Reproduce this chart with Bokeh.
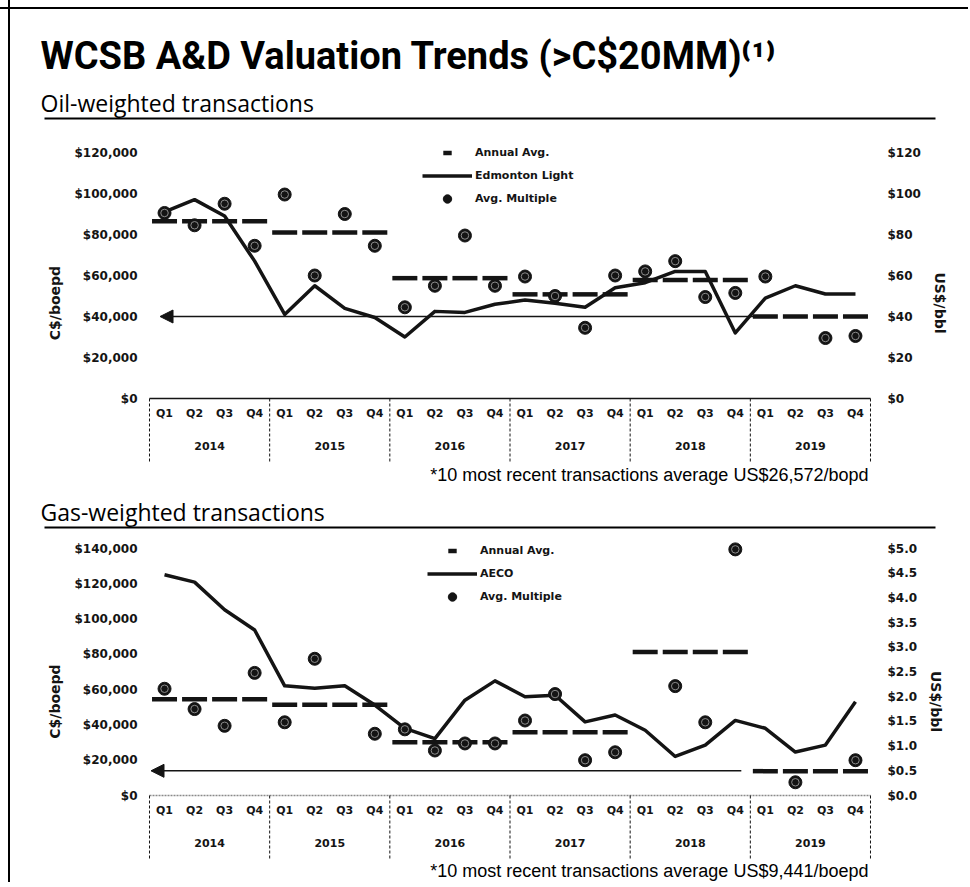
from bokeh.plotting import figure
from bokeh.models import (FactorRange, Range1d, LinearAxis, FixedTicker, NumeralTickFormatter,
                          Legend, LegendItem, Arrow, NormalHead)
from bokeh.layouts import column, row
from bokeh.core.properties import value
from bokeh.embed import file_html
from bokeh.resources import INLINE

# ---------------- data ----------------
years = ["2014", "2015", "2016", "2017", "2018", "2019"]
quarters = ["Q1", "Q2", "Q3", "Q4"]

oil_avg_multiple = [90500, 84500, 95000, 74500, 99500, 60000, 90000, 74500,
                    44500, 55000, 79500, 55000, 59500, 50000, 34500, 60000,
                    62000, 67000, 49500, 51500, 59500, None, 29500, 30500]
oil_edmonton_light = [91, 97, 89, 67, 41, 55, 44, 39.5,
                      30, 42.5, 42, 46, 48, 46.5, 44.5, 54,
                      56.5, 62, 62, 32, 49, 55, 51, 51]
oil_annual_avg = [86500, 81000, 58700, 50800, 57800, 40000]
oil_left_ticks = [0, 20000, 40000, 60000, 80000, 100000, 120000]
oil_right_ticks = [0, 20, 40, 60, 80, 100, 120]
oil_arrow_level = 40000

gas_avg_multiple = [60500, 49000, 39500, 69500, 41500, 77500, None, 35000,
                    37500, 25500, 29500, 29500, 42500, 57500, 20000, 24500,
                    None, 62000, 41500, 139500, None, 7500, None, 20000]
gas_aeco = [4.47, 4.32, 3.76, 3.35, 2.22, 2.17, 2.22, 1.83,
            1.36, 1.15, 1.93, 2.32, 2.00, 2.03, 1.49, 1.63,
            1.32, 0.79, 1.02, 1.52, 1.36, 0.88, 1.02, 1.90]
gas_annual_avg = [54500, 51500, 30200, 35900, 81300, 13800]
gas_left_ticks = [0, 20000, 40000, 60000, 80000, 100000, 120000, 140000]
gas_right_ticks = [0.0, 0.5, 1.0, 1.5, 2.0, 2.5, 3.0, 3.5, 4.0, 4.5, 5.0]
gas_arrow_level = 14000

title_text = "WCSB A&D Valuation Trends (>C$20MM)\u207d\u00b9\u207e"
oil_subtitle = "Oil-weighted transactions"
gas_subtitle = "Gas-weighted transactions"
oil_note = "*10 most recent transactions average US$26,572/bopd"
gas_note = "*10 most recent transactions average US$9,441/boepd"

# ---------------- styling ----------------
BASE = "DejaVu Sans"
HEAD = "Roboto"
SUB = "Open Sans"
NOTE = "Liberation Sans"
INK = "#141414"
W = 968
FRAME_L, FRAME_R = 146, 873
factors = [(y, q) for y in years for q in quarters]


def no_align(p):
    try:
        p.frame_align = False
    except Exception:
        pass


def head(top_ref, bottom_ref):
    p = figure(width=W, height=bottom_ref - top_ref, x_range=Range1d(0, W),
               y_range=Range1d(bottom_ref, top_ref), output_backend="svg",
               toolbar_location=None, tools="", x_axis_location=None, y_axis_location=None,
               min_border=0, min_border_left=0, min_border_right=0, min_border_top=0,
               min_border_bottom=0, outline_line_color=None,
               background_fill_alpha=0, border_fill_alpha=0)
    p.grid.visible = False
    no_align(p)
    return p


def chart(mult, price, annual, left_ticks, right_ticks, right_fmt, right_label,
          price_label, fig_top, label_top, zero_y, frame_bottom, legend_xy,
          arrow_level, arrow_x, axis_color, axis_dash):
    y_max = left_ticks[-1]
    upp = y_max / (zero_y - label_top)          # data units per pixel
    y_start = -(frame_bottom - zero_y) * upp
    y_end = y_max + (label_top - fig_top) * upp
    ratio = y_max / right_ticks[-1]
    xr = FactorRange(*factors, factor_padding=0, group_padding=0, subgroup_padding=0,
                     range_padding=0.1, range_padding_units="absolute")
    p = figure(width=W, height=frame_bottom - fig_top, x_range=xr,
               y_range=Range1d(y_start, y_end), output_backend="svg",
               toolbar_location=None, tools="", x_axis_location=None,
               min_border_left=FRAME_L, min_border_right=W - FRAME_R,
               min_border_top=0, min_border_bottom=0,
               outline_line_color=None, background_fill_alpha=0, border_fill_alpha=0)
    p.grid.visible = False
    no_align(p)
    p.extra_y_ranges = {"price": Range1d(y_start / ratio, y_end / ratio)}

    ya = p.yaxis[0]
    ya.ticker = FixedTicker(ticks=left_ticks)
    ya.formatter = NumeralTickFormatter(format="$0,0")
    ya.axis_label = "C$/boepd"
    ra = LinearAxis(y_range_name="price", ticker=FixedTicker(ticks=right_ticks),
                    formatter=NumeralTickFormatter(format=right_fmt), axis_label=right_label)
    p.add_layout(ra, "right")
    for ax, standoff, lstand in ((ya, 9, 8), (ra, 14, 8)):
        ax.axis_line_color = None
        ax.major_tick_line_color = None
        ax.minor_tick_line_color = None
        ax.major_tick_out = 0
        ax.major_tick_in = 0
        ax.major_label_standoff = standoff
        ax.major_label_text_font = BASE
        ax.major_label_text_font_style = "bold"
        ax.major_label_text_font_size = "12px"
        ax.major_label_text_color = INK
        ax.axis_label_standoff = lstand
        ax.axis_label_text_font = BASE
        ax.axis_label_text_font_style = "bold"
        ax.axis_label_text_font_size = "14px"
        ax.axis_label_text_color = INK

    # category axis drawn below the zero line
    p.segment(x0=[0], y0=[0], x1=[len(factors)], y1=[0], line_color=axis_color,
              line_width=1.6, line_dash=axis_dash)
    seps = list(range(0, len(factors) + 1, len(quarters)))
    p.segment(x0=seps, y0=[0] * len(seps), x1=seps, y1=[-64 * upp] * len(seps),
              line_color=INK, line_width=1, line_dash="3 2")
    p.text(x=factors, y=[-15 * upp] * len(factors), text=[q for _, q in factors],
           text_align="center", text_baseline="middle", text_font=value(BASE),
           text_font_style="bold", text_font_size="11px", text_color=INK)
    p.text(x=[len(quarters) * i + len(quarters) / 2 for i in range(len(years))],
           y=[-47 * upp] * len(years), text=years, text_align="center",
           text_baseline="middle", text_font=value(BASE), text_font_style="bold",
           text_font_size="11px", text_color=INK)

    arrow = Arrow(end=NormalHead(size=13, fill_color=INK, line_color=INK, line_width=1),
                  x_start=arrow_x[0], y_start=arrow_level, x_end=arrow_x[1], y_end=arrow_level,
                  line_color=INK, line_width=1.5, level="underlay")
    p.add_layout(arrow)

    ann_y = [a for a in annual for _ in quarters]
    r_ann = p.scatter(x=factors, y=ann_y, marker="dash", size=25, line_width=4.5,
                      line_color=INK)
    r_line = p.line(x=factors, y=price, y_range_name="price", line_color=INK,
                    line_width=3.5, line_join="round")
    px = [f for f, v in zip(factors, mult) if v is not None]
    py = [v for v in mult if v is not None]
    r_pts = p.scatter(x=px, y=py, marker="circle", size=13, fill_color=INK,
                      line_color=INK)
    p.scatter(x=px, y=py, marker="circle", size=7.5, fill_alpha=0,
              line_color="#8c8c8c", line_width=1)

    legend = Legend(items=[LegendItem(label="Annual Avg.", renderers=[r_ann]),
                           LegendItem(label=price_label, renderers=[r_line]),
                           LegendItem(label="Avg. Multiple", renderers=[r_pts])],
                    location=legend_xy, orientation="vertical", glyph_width=50,
                    glyph_height=21, label_height=21, spacing=2, padding=0, margin=0,
                    label_standoff=3, border_line_color=None, background_fill_alpha=0,
                    label_text_font=BASE, label_text_font_style="bold",
                    label_text_font_size="11px", label_text_color=INK)
    p.add_layout(legend)
    return p


# ---------------- header ----------------
h1 = head(0, 140)
h1.text(x=[40], y=[55], text=[title_text], text_baseline="middle",
        text_font=value(HEAD), text_font_style="bold", text_font_size="38px",
        text_color="#000000")
h1.text(x=[40], y=[102], text=[oil_subtitle], text_baseline="middle",
        text_font=value(SUB), text_font_size="23px", text_color="#000000")
h1.segment(x0=[44], y0=[118], x1=[935], y1=[118], line_color="#000000", line_width=2)

oil = chart(oil_avg_multiple, oil_edmonton_light, oil_annual_avg, oil_left_ticks,
            oil_right_ticks, "$0", "US$/bbl", "Edmonton Light",
            fig_top=140, label_top=152, zero_y=398, frame_bottom=465,
            legend_xy=(276, 256), arrow_level=oil_arrow_level, arrow_x=(20.2, 0.35),
            axis_color=INK, axis_dash="solid")

h2 = head(465, 540)
h2.text(x=[868], y=[474], text=[oil_note], text_align="right", text_baseline="middle",
        text_font=value(NOTE), text_font_size="18px", text_color="#000000")
h2.text(x=[40], y=[511], text=[gas_subtitle], text_baseline="middle",
        text_font=value(SUB), text_font_size="23px", text_color="#000000")
h2.segment(x0=[44], y0=[527], x1=[935], y1=[527], line_color="#000000", line_width=2)

gas = chart(gas_avg_multiple, gas_aeco, gas_annual_avg, gas_left_ticks,
            gas_right_ticks, "$0.0", "US$/bbl", "AECO",
            fig_top=540, label_top=548, zero_y=795, frame_bottom=862,
            legend_xy=(281, 255), arrow_level=gas_arrow_level, arrow_x=(19.7, 0.05),
            axis_color="#8a8a8a", axis_dash="2 1")

h3 = head(862, 882)
h3.text(x=[868], y=[870], text=[gas_note], text_align="right", text_baseline="middle",
        text_font=value(NOTE), text_font_size="18px", text_color="#000000")

border_css = ("linear-gradient(to right, transparent 8px, #000 8px, #000 10px, transparent 10px), "
              "linear-gradient(to bottom, transparent 7px, #000 7px, #000 9px, transparent 9px)")
layout = column(row(h1), row(oil), row(h2), row(gas), row(h3), spacing=0,
                styles={"background-image": border_css})

open("out.html", "w").write(file_html(layout, INLINE))
